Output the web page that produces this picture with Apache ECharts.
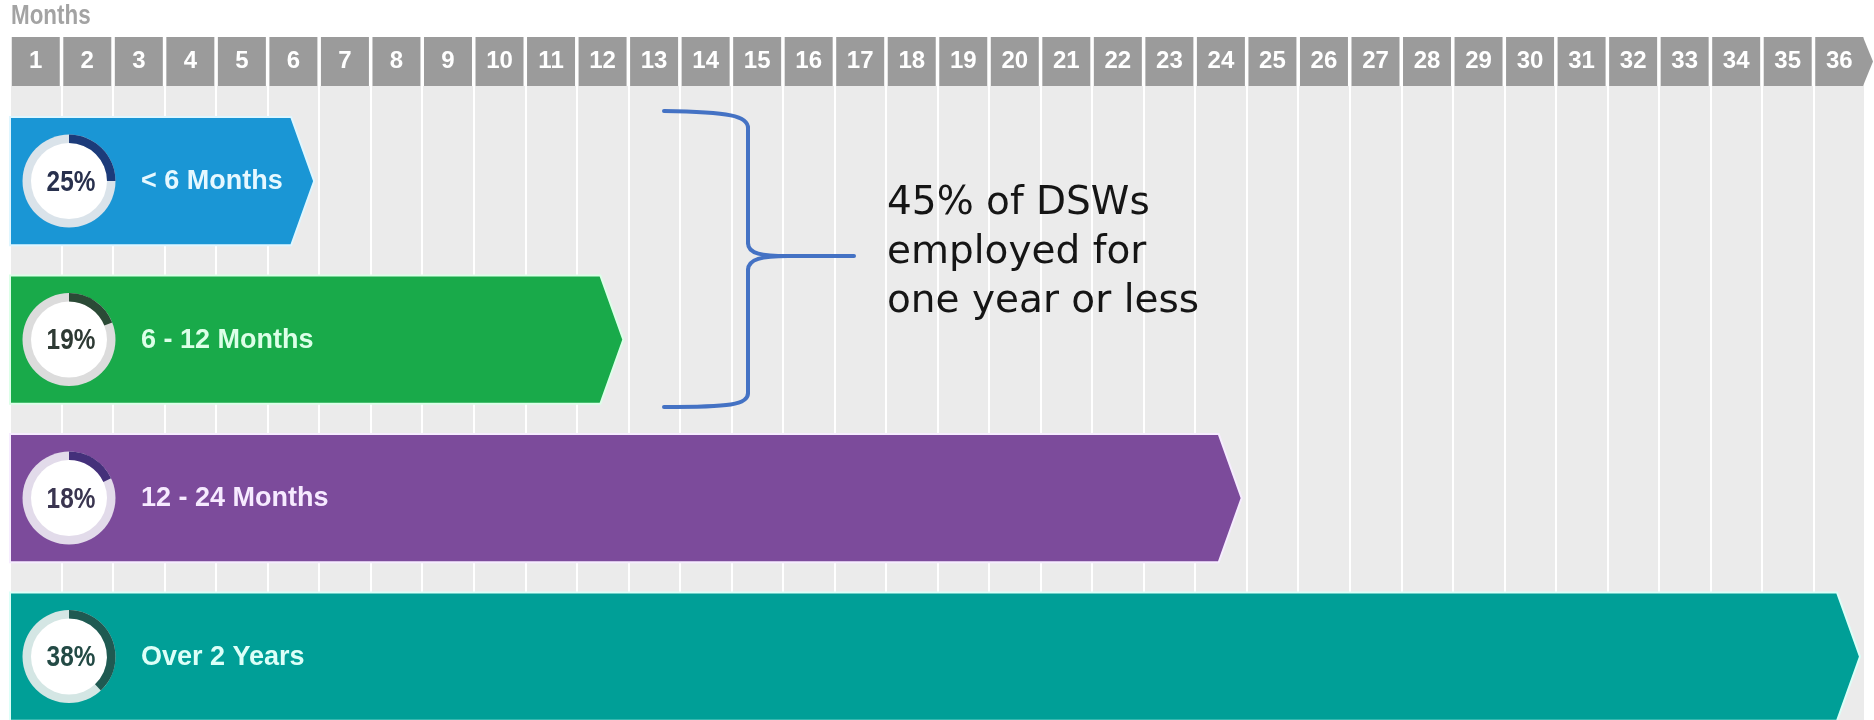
<!DOCTYPE html>
<html>
<head>
<meta charset="utf-8">
<title>DSW tenure</title>
<script src="https://cdn.jsdelivr.net/npm/echarts@6/dist/echarts.min.js"></script>
<style>
  html, body { margin: 0; padding: 0; background: #ffffff; }
  #chart { width: 1874px; height: 720px; }
</style>
</head>
<body>
<div id="chart"></div>
<script>
// Tenure groups, how many months each arrow reaches, and share of workers
const categories = ['< 6 Months', '6 - 12 Months', '12 - 24 Months', 'Over 2 Years'];
const durationMonths = [6, 12, 24, 36];
const sharePct = [25, 19, 18, 38];
const monthTicks = ['1', '2', '3', '4', '5', '6', '7', '8', '9', '10', '11', '12',
  '13', '14', '15', '16', '17', '18', '19', '20', '21', '22', '23', '24',
  '25', '26', '27', '28', '29', '30', '31', '32', '33', '34', '35', '36'];
const noteLines = ['45% of DSWs', 'employed for', 'one year or less'];

const SANS = "'Liberation Sans', Arial, sans-serif";

// Per-row look: arrow fill, badge ring, progress arc, badge text, label text
const rowStyles = [
  { fill: '#1a96d5', edge: '#dff6ff', ring: '#dae3ea', arc: '#1c3b7a', pct: '#28304d', label: '#e6f8ff' },
  { fill: '#19aa4a', edge: '#dcffe8', ring: '#dcdcdc', arc: '#2b4a36', pct: '#2e3a34', label: '#dcffe8' },
  { fill: '#7c4b9b', edge: '#f6ecff', ring: '#e2dbea', arc: '#44307a', pct: '#3a3550', label: '#f6eaff' },
  { fill: '#009f97', edge: '#dcfff8', ring: '#d4e6e4', arc: '#1f5a52', pct: '#234a45', label: '#dcfff8' }
];

const rows = categories.map((c, i) => [i, durationMonths[i], sharePct[i]]);

function renderArrow(params, api) {
  const i = params.dataIndex;
  const st = rowStyles[i];
  const row = api.value(0);
  const months = api.value(1);
  const pct = api.value(2);
  const start = api.coord([0, row]);
  const end = api.coord([months, row]);
  const h = api.size([0, 1])[1] * 0.81;
  const cy = start[1];
  const x0 = start[0];
  const tip = end[0] - 5;
  const body = tip - 23;
  const cx = x0 + 59;
  const rOut = 46.5, rIn = 38;

  return {
    type: 'group',
    children: [
      {
        type: 'polygon',
        shape: { points: [[x0, cy - h / 2], [body, cy - h / 2], [tip, cy], [body, cy + h / 2], [x0, cy + h / 2]] },
        style: { fill: st.fill, stroke: st.edge, lineWidth: 2 }
      },
      { type: 'circle', shape: { cx: cx, cy: cy, r: rOut }, style: { fill: st.ring } },
      { type: 'circle', shape: { cx: cx, cy: cy, r: rIn }, style: { fill: '#ffffff' } },
      {
        type: 'sector',
        shape: {
          cx: cx, cy: cy, r0: rIn, r: rOut,
          startAngle: -Math.PI / 2,
          endAngle: -Math.PI / 2 + Math.PI * 2 * pct / 100,
          clockwise: true
        },
        style: { fill: st.arc }
      },
      {
        // condensed percentage inside the badge
        type: 'text',
        x: cx + 2, y: cy + 1.5, scaleX: 0.84,
        style: {
          text: pct + '%', fill: st.pct, align: 'center', verticalAlign: 'middle',
          fontFamily: SANS, fontWeight: 'bold', fontSize: 29
        }
      },
      {
        type: 'text',
        x: x0 + 131, y: cy + 0.5,
        style: {
          text: categories[i], fill: st.label, align: 'left', verticalAlign: 'middle',
          fontFamily: SANS, fontWeight: 'bold', fontSize: 27
        }
      }
    ]
  };
}

const chart = echarts.init(document.getElementById('chart'), null, { renderer: 'canvas' });

const bracketStyle = { stroke: '#4472c4', lineWidth: 4, fill: null, lineCap: 'round' };
const TOP = 100;

const option = {
  animation: false,
  backgroundColor: '#ffffff',
  grid: {
    left: 10, right: 9, top: 86, bottom: 0,
    show: true, backgroundColor: '#ebebeb', borderWidth: 0
  },
  xAxis: [
    {
      type: 'value', min: 0, max: 36, interval: 1,
      axisLine: { show: false }, axisTick: { show: false }, axisLabel: { show: false },
      splitLine: { show: true, lineStyle: { color: '#ffffff', width: 2 } }
    },
    {
      type: 'category', position: 'top', data: monthTicks, boundaryGap: true,
      axisLine: { show: false }, axisTick: { show: false }, splitLine: { show: false },
      axisLabel: {
        interval: 0, margin: 0,
        color: '#ffffff', fontFamily: SANS, fontWeight: 'bold', fontSize: 24,
        backgroundColor: '#9b9b9b', width: 48, height: 49, lineHeight: 49, align: 'center'
      }
    }
  ],
  yAxis: { type: 'value', inverse: true, min: -0.6, max: 3.4, show: false },
  series: [{
    type: 'custom',
    xAxisIndex: 0, yAxisIndex: 0,
    renderItem: renderArrow,
    data: rows,
    clip: false,
    z: 10
  }],
  graphic: [
    // axis caption above the month header
    {
      type: 'text', x: 11, y: 17, scaleX: 0.83, z: TOP,
      style: {
        text: 'Months', fill: '#a3a3a3', fontFamily: SANS, fontWeight: 'bold', fontSize: 27,
        align: 'left', verticalAlign: 'middle'
      }
    },
    // arrow point closing the month header
    { type: 'polygon', z: TOP, shape: { points: [[1863, 37], [1873, 61.5], [1863, 86]] }, style: { fill: '#9b9b9b' } },
    // brace grouping the first two tenure bands
    { type: 'bezierCurve', z: TOP, shape: { x1: 664, y1: 111, cpx1: 730, cpy1: 112, cpx2: 748, cpy2: 116, x2: 748, y2: 128 }, style: bracketStyle },
    { type: 'line', z: TOP, shape: { x1: 748, y1: 128, x2: 748, y2: 243 }, style: bracketStyle },
    { type: 'bezierCurve', z: TOP, shape: { x1: 748, y1: 243, cpx1: 748, cpy1: 254, cpx2: 762, cpy2: 256, x2: 788, y2: 256 }, style: bracketStyle },
    { type: 'line', z: TOP, shape: { x1: 788, y1: 256, x2: 854, y2: 256 }, style: bracketStyle },
    { type: 'bezierCurve', z: TOP, shape: { x1: 788, y1: 256, cpx1: 762, cpy1: 256, cpx2: 748, cpy2: 259, x2: 748, y2: 270 }, style: bracketStyle },
    { type: 'line', z: TOP, shape: { x1: 748, y1: 270, x2: 748, y2: 393 }, style: bracketStyle },
    { type: 'bezierCurve', z: TOP, shape: { x1: 748, y1: 393, cpx1: 748, cpy1: 405, cpx2: 730, cpy2: 407, x2: 664, y2: 407 }, style: bracketStyle },
    {
      type: 'text', x: 887, y: 179.5, z: TOP,
      style: {
        text: noteLines.join('\n'), fill: '#151515',
        fontFamily: "'DejaVu Sans', sans-serif", fontSize: 39, lineHeight: 49,
        align: 'left', verticalAlign: 'top'
      }
    }
  ]
};

chart.setOption(option);
</script>
</body>
</html>
